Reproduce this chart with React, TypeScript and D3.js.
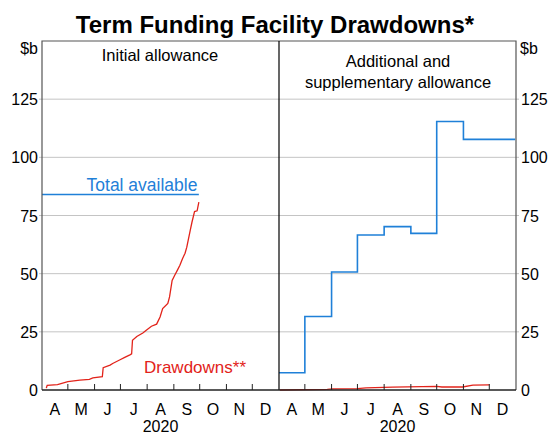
import React from "react";
import * as d3 from "d3";

// ---------- Data ----------
const monthLabels = ["A", "M", "J", "J", "A", "S", "O", "N", "D"];
const yTicks = [0, 25, 50, 75, 100, 125];
const yearLabel = "2020";

// Initial allowance panel
const initialTotalAvailable: [string, number][] = [
  ["2020-04-01", 84],
  ["2020-09-30", 84],
];
const initialDrawdowns: [string, number][] = [
  ["2020-04-06", 0.8],
  ["2020-04-07", 2.0],
  ["2020-04-19", 2.3],
  ["2020-05-01", 3.6],
  ["2020-05-15", 4.2],
  ["2020-05-26", 4.6],
  ["2020-05-30", 5.2],
  ["2020-06-10", 5.7],
  ["2020-06-11", 9.6],
  ["2020-06-19", 10.7],
  ["2020-06-22", 11.4],
  ["2020-06-30", 12.9],
  ["2020-07-06", 14.0],
  ["2020-07-12", 15.1],
  ["2020-07-14", 15.5],
  ["2020-07-15", 21.4],
  ["2020-07-20", 23.0],
  ["2020-07-27", 24.5],
  ["2020-07-31", 25.7],
  ["2020-08-06", 27.4],
  ["2020-08-12", 28.3],
  ["2020-08-16", 31.4],
  ["2020-08-19", 35.0],
  ["2020-08-25", 37.2],
  ["2020-08-27", 40.0],
  ["2020-08-30", 47.1],
  ["2020-09-02", 49.3],
  ["2020-09-05", 51.4],
  ["2020-09-08", 53.6],
  ["2020-09-11", 56.4],
  ["2020-09-14", 58.8],
  ["2020-09-16", 61.4],
  ["2020-09-20", 68.6],
  ["2020-09-22", 72.1],
  ["2020-09-25", 76.7],
  ["2020-09-28", 77.0],
  ["2020-09-30", 80.7],
];

// Additional and supplementary allowance panel
const additionalTotalAvailable: [string, number][] = [
  ["2020-04-01", 7.4],
  ["2020-05-01", 31.6],
  ["2020-06-01", 50.7],
  ["2020-07-01", 66.6],
  ["2020-08-01", 70.2],
  ["2020-09-01", 67.3],
  ["2020-10-01", 115.4],
  ["2020-11-01", 107.7],
  ["2020-12-31", 107.7],
];
const additionalDrawdowns: [string, number][] = [
  ["2020-04-02", 0.0],
  ["2020-05-27", 0.3],
  ["2020-06-02", 0.5],
  ["2020-07-01", 0.6],
  ["2020-07-11", 0.9],
  ["2020-08-11", 1.2],
  ["2020-10-01", 1.6],
  ["2020-10-07", 1.3],
  ["2020-10-31", 1.3],
  ["2020-11-12", 2.1],
  ["2020-12-01", 2.2],
];

// ---------- Layout ----------
const W = 550;
const H = 435;
const left = 42;
const mid = 279;
const right = 516;
const top = 41;
const bottom = 390;

const BLUE = "#1f80d8";
const RED = "#e2231a";
const GRID = "#c4c4c4";
const FONT = "'Liberation Sans', Arial, sans-serif";

const parse = d3.timeParse("%Y-%m-%d");
const d0 = new Date(2020, 3, 1);
const d1 = new Date(2021, 0, 1);

const y = d3.scaleLinear().domain([0, 150]).range([bottom, top]);
const xL = d3.scaleTime().domain([d0, d1]).range([left, mid]);
const xR = d3.scaleTime().domain([d0, d1]).range([mid, right]);

const monthStarts = d3.timeMonth.range(d0, d1);
const monthBoundaries = monthStarts.slice(1);

function linePath(x: d3.ScaleTime<number, number>, data: [string, number][], step = false) {
  const gen = d3
    .line<[string, number]>()
    .x((d) => x(parse(d[0]) as Date))
    .y((d) => y(d[1]));
  if (step) gen.curve(d3.curveStepAfter);
  return gen(data) || "";
}

function Panel({ x }: { x: d3.ScaleTime<number, number> }) {
  return (
    <g>
      {monthBoundaries.map((m, i) => (
        <line key={"t" + i} x1={x(m)} x2={x(m)} y1={bottom} y2={bottom - 6} stroke="#222" strokeWidth={1} />
      ))}
      {monthStarts.map((m, i) => {
        const cx = (x(m) + x(d3.timeMonth.offset(m, 1))) / 2;
        return (
          <text key={"m" + i} x={cx} y={415} textAnchor="middle" fontSize={16} fontFamily={FONT} fill="#000">
            {monthLabels[i]}
          </text>
        );
      })}
      <text x={(x.range()[0] + x.range()[1]) / 2} y={432} textAnchor="middle" fontSize={16} fontFamily={FONT} fill="#000">
        {yearLabel}
      </text>
    </g>
  );
}

export default function App() {
  return (
    <div style={{ position: "absolute", left: 0, top: 0 }}>
      <svg width={W} height={H} style={{ display: "block", background: "#fff" }}>
        <text x={275} y={33} textAnchor="middle" fontSize={24} fontWeight="bold" fontFamily={FONT} fill="#000">
          Term Funding Facility Drawdowns*
        </text>

        {/* grid */}
        {yTicks.filter((t) => t > 0).map((t) => (
          <line key={"g" + t} x1={left - 3} x2={right + 3} y1={y(t)} y2={y(t)} stroke={GRID} strokeWidth={1} />
        ))}

        {/* y labels */}
        {yTicks.map((t) => (
          <g key={"yl" + t}>
            <text x={38} y={y(t) + 6} textAnchor="end" fontSize={16} fontFamily={FONT} fill="#000">{t}</text>
            <text x={521} y={y(t) + 6} textAnchor="start" fontSize={16} fontFamily={FONT} fill="#000">{t}</text>
          </g>
        ))}
        <text x={38} y={y(150) + 13} textAnchor="end" fontSize={16} fontFamily={FONT} fill="#000">$b</text>
        <text x={520} y={y(150) + 13} textAnchor="start" fontSize={16} fontFamily={FONT} fill="#000">$b</text>

        {/* panel titles */}
        <text x={160} y={61} textAnchor="middle" fontSize={16.5} fontFamily={FONT} fill="#000">Initial allowance</text>
        <text x={398} y={67} textAnchor="middle" fontSize={16.5} fontFamily={FONT} fill="#000">Additional and</text>
        <text x={398} y={88} textAnchor="middle" fontSize={16.5} fontFamily={FONT} fill="#000">supplementary allowance</text>

        {/* series */}
        <path d={linePath(xL, initialTotalAvailable)} fill="none" stroke={BLUE} strokeWidth={1.6} />
        <path d={linePath(xL, initialDrawdowns)} fill="none" stroke={RED} strokeWidth={1.3} />
        <path d={linePath(xR, additionalTotalAvailable, true)} fill="none" stroke={BLUE} strokeWidth={1.6} />
        <path d={linePath(xR, additionalDrawdowns)} fill="none" stroke={RED} strokeWidth={1.3} />

        {/* series labels */}
        <text x={142} y={191} textAnchor="middle" fontSize={17.5} fontFamily={FONT} fill={BLUE}>Total available</text>
        <text x={195} y={373} textAnchor="middle" fontSize={17} fontFamily={FONT} fill={RED}>Drawdowns**</text>

        {/* frame */}
        <path d={`M${left},${bottom}V${top}H${right}V${bottom}`} fill="none" stroke="#555" strokeWidth={1.2} />
        <line x1={mid} x2={mid} y1={top} y2={bottom} stroke="#000" strokeWidth={1.2} />
        <line x1={left} x2={right} y1={bottom} y2={bottom} stroke="#222" strokeWidth={1.3} />

        <Panel x={xL} />
        <Panel x={xR} />
      </svg>
    </div>
  );
}
